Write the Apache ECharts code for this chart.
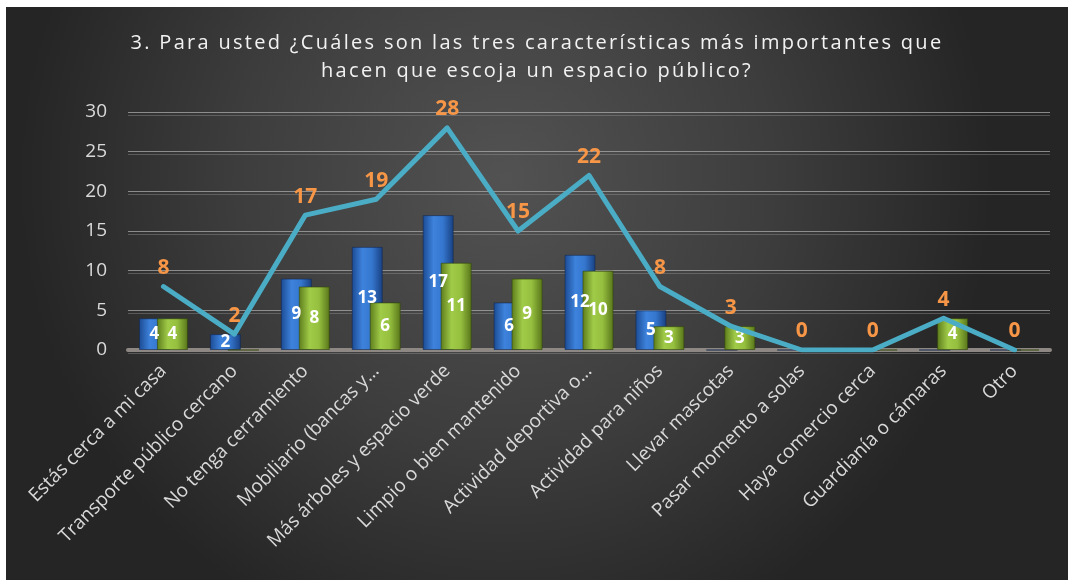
<!DOCTYPE html>
<html>
<head>
<meta charset="utf-8">
<script src="https://cdn.jsdelivr.net/npm/echarts@6/dist/echarts.min.js"></script>
<style>
  html, body { margin: 0; padding: 0; background: #ffffff; }
  #chart { position: absolute; left: 6px; top: 7px; width: 1062px; height: 573px; }
  #title {
    position: absolute; left: 6px; top: 28px; width: 1062px;
    text-align: center; color: #f2f2f2;
    font-family: "Open Sans", "Noto Sans", sans-serif;
    font-size: 20px; line-height: 28px; letter-spacing: 2.3px;
    pointer-events: none;
  }
</style>
</head>
<body>
<div id="chart"></div>
<div id="title">3. Para usted ¿Cuáles son las tres características más importantes que<br>hacen que escoja un espacio público?</div>
<script>
// Survey answers: two response groups plus their combined total
const categories = [
  'Estás cerca a mi casa',
  'Transporte público cercano',
  'No tenga cerramiento',
  'Mobiliario (bancas y…',
  'Más árboles y espacio verde',
  'Limpio o bien mantenido',
  'Actividad deportiva o…',
  'Actividad para niños',
  'Llevar mascotas',
  'Pasar momento a solas',
  'Haya comercio cerca',
  'Guardianía o cámaras',
  'Otro'
];
const seriesBlue  = [4, 2, 9, 13, 17, 6, 12, 5, 0, 0, 0, 0, 0];
const seriesGreen = [4, 0, 8, 6, 11, 9, 10, 3, 3, 0, 0, 4, 0];
const seriesTotal = [8, 2, 17, 19, 28, 15, 22, 8, 3, 0, 0, 4, 0];
const yTicks = { min: 0, max: 30, interval: 5 };

const FONT = '"Open Sans", "Noto Sans", sans-serif';
const BAR_W = 31;
const BAR_GAP = '-42%';

function hGrad(stops) {
  return new echarts.graphic.LinearGradient(0, 0, 1, 0,
    stops.map(([offset, color]) => ({ offset, color })));
}

const barLabel = {
  show: true,
  position: 'inside',
  color: '#ffffff',
  fontFamily: FONT,
  fontWeight: 'bold',
  fontSize: 17,
  formatter: p => (p.value ? String(p.value) : '')
};

const chart = echarts.init(document.getElementById('chart'));
chart.setOption({
  backgroundColor: new echarts.graphic.RadialGradient(0.47, 0.3, 0.85, [
    { offset: 0, color: '#525252' },
    { offset: 0.55, color: '#3d3d3d' },
    { offset: 1, color: '#252525' }
  ]),
  grid: { left: 122, right: 18, top: 105, bottom: 230, containLabel: false },
  xAxis: [
    {
      type: 'category',
      data: categories,
      axisLine: { show: true, lineStyle: { color: '#8d8883', width: 4 } },
      axisTick: { show: false },
      axisLabel: {
        rotate: 45,
        interval: 0,
        margin: 18,
        color: '#d9d9d9',
        fontFamily: FONT,
        fontSize: 19
      }
    },
    {
      // twin axis carrying the front label layer for the first group
      type: 'category',
      data: categories,
      show: false
    }
  ],
  yAxis: {
    type: 'value',
    min: yTicks.min,
    max: yTicks.max,
    interval: yTicks.interval,
    axisLine: { show: false },
    axisTick: { show: false },
    axisLabel: {
      color: '#d9d9d9',
      fontFamily: FONT,
      fontSize: 19,
      margin: 21
    },
    splitLine: {
      lineStyle: {
        color: 'rgba(170,170,170,0.75)',
        width: 1,
        shadowColor: 'rgba(150,150,150,0.55)',
        shadowBlur: 0,
        shadowOffsetY: 3
      }
    }
  },
  series: [
    {
      name: 'Grupo 1',
      type: 'bar',
      data: seriesBlue,
      barWidth: BAR_W,
      barGap: BAR_GAP,
      itemStyle: {
        color: hGrad([[0, '#1b4a92'], [0.35, '#3d82dc'], [0.65, '#3577cf'], [1, '#183f80']]),
        borderColor: 'rgba(20,40,80,0.6)',
        borderWidth: 1
      },
      z: 2
    },
    {
      name: 'Grupo 2',
      type: 'bar',
      data: seriesGreen,
      barWidth: BAR_W,
      itemStyle: {
        color: hGrad([[0, '#5c7b1b'], [0.35, '#a0cb48'], [0.65, '#95bf3e'], [1, '#57741a']]),
        borderColor: 'rgba(50,70,10,0.6)',
        borderWidth: 1
      },
      label: barLabel,
      z: 3
    },
    {
      // transparent copy of the first group, so its labels sit above the second group
      name: 'Grupo 1 etiquetas',
      type: 'bar',
      xAxisIndex: 1,
      data: seriesBlue,
      barWidth: BAR_W,
      barGap: BAR_GAP,
      itemStyle: { color: 'rgba(0,0,0,0)' },
      label: barLabel,
      silent: true,
      z: 4
    },
    {
      name: 'Grupo 2 hueco',
      type: 'bar',
      xAxisIndex: 1,
      data: seriesGreen,
      barWidth: BAR_W,
      itemStyle: { color: 'rgba(0,0,0,0)' },
      silent: true,
      z: 4
    },
    {
      name: 'Total',
      type: 'line',
      data: seriesTotal,
      symbol: 'circle',
      symbolSize: 2,
      showSymbol: true,
      itemStyle: { color: '#4aacc5' },
      lineStyle: { color: '#4aacc5', width: 5, cap: 'round', join: 'round' },
      label: {
        show: true,
        position: 'top',
        distance: 7,
        color: '#f79646',
        fontFamily: FONT,
        fontWeight: 'bold',
        fontSize: 21
      },
      z: 5
    }
  ]
});
</script>
</body>
</html>
